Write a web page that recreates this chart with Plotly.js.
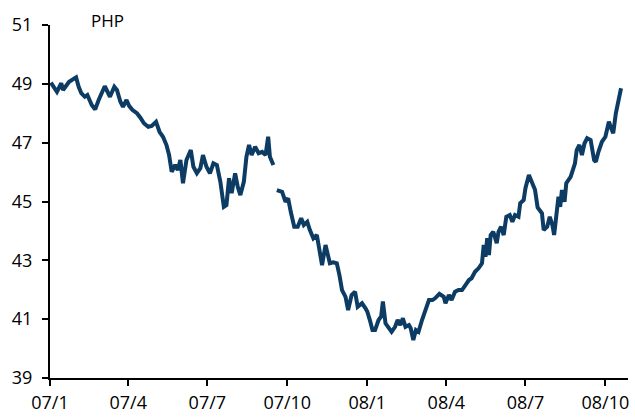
<!DOCTYPE html>
<html>
<head>
<meta charset="utf-8">
<script src="https://cdn.plot.ly/plotly-3.0.1.min.js"></script>
<style>
  html, body { margin: 0; padding: 0; background: #fff; }
  #chart { width: 635px; height: 419px; }
</style>
</head>
<body>
<div id="chart"></div>
<script>
// PHP per USD (null = gap in the series)
var dates = [
  "2007-01-02","2007-01-09","2007-01-14","2007-01-16","2007-01-23","2007-01-31","2007-02-03","2007-02-06",
  "2007-02-10","2007-02-13","2007-02-18","2007-02-22","2007-02-26","2007-03-05","2007-03-09","2007-03-11",
  "2007-03-16","2007-03-19","2007-03-23","2007-03-26","2007-03-30","2007-04-02","2007-04-06","2007-04-11",
  "2007-04-15","2007-04-19","2007-04-24","2007-04-28","2007-05-03","2007-05-07","2007-05-11","2007-05-15",
  "2007-05-18","2007-05-21","2007-05-25","2007-05-28","2007-05-31","2007-06-03","2007-06-07","2007-06-09",
  "2007-06-12","2007-06-15","2007-06-19","2007-06-23","2007-06-26","2007-06-30","2007-07-04","2007-07-08",
  "2007-07-12","2007-07-16","2007-07-20","2007-07-23","2007-07-26","2007-07-29","2007-08-02","2007-08-05",
  "2007-08-08","2007-08-12","2007-08-15","2007-08-18","2007-08-21","2007-08-25","2007-08-29","2007-09-02",
  "2007-09-06","2007-09-09","2007-09-11","2007-09-15","2007-09-17","2007-09-19","2007-09-25","2007-09-29",
  "2007-10-02","2007-10-05","2007-10-09","2007-10-13","2007-10-17","2007-10-20","2007-10-24","2007-10-27",
  "2007-10-31","2007-11-04","2007-11-07","2007-11-10","2007-11-14","2007-11-16","2007-11-19","2007-11-23",
  "2007-11-27","2007-11-30","2007-12-03","2007-12-07","2007-12-10","2007-12-14","2007-12-18","2007-12-21",
  "2007-12-26","2007-12-30","2008-01-01","2008-01-04","2008-01-07","2008-01-10","2008-01-14","2008-01-17",
  "2008-01-19","2008-01-22","2008-01-26","2008-01-29","2008-02-02","2008-02-05","2008-02-08","2008-02-11",
  "2008-02-14","2008-02-18","2008-02-20","2008-02-23","2008-02-26","2008-02-29","2008-03-04","2008-03-08",
  "2008-03-12","2008-03-16","2008-03-19","2008-03-24","2008-03-29","2008-03-31","2008-04-04","2008-04-07",
  "2008-04-11","2008-04-15","2008-04-19","2008-04-23","2008-04-27","2008-04-30","2008-05-04","2008-05-08",
  "2008-05-12","2008-05-14","2008-05-16","2008-05-18","2008-05-20","2008-05-22","2008-05-25","2008-05-29",
  "2008-05-31","2008-06-03","2008-06-06","2008-06-09","2008-06-13","2008-06-16","2008-06-19","2008-06-23",
  "2008-06-25","2008-06-29","2008-07-01","2008-07-05","2008-07-09","2008-07-12","2008-07-15","2008-07-20",
  "2008-07-22","2008-07-26","2008-07-29","2008-08-01","2008-08-03","2008-08-06","2008-08-08","2008-08-10",
  "2008-08-12","2008-08-15","2008-08-17","2008-08-22","2008-08-25","2008-08-27","2008-08-29","2008-09-01",
  "2008-09-04","2008-09-07","2008-09-10","2008-09-14","2008-09-18","2008-09-20","2008-09-23","2008-09-27",
  "2008-10-01","2008-10-05","2008-10-07","2008-10-10","2008-10-13","2008-10-15","2008-10-18","2008-10-19"
];
var php = [
  49.04,48.73,49.02,48.79,49.07,49.22,48.90,48.68,
  48.56,48.62,48.28,48.13,48.45,48.92,48.68,48.56,
  48.90,48.79,48.39,48.22,48.45,48.25,48.11,48.00,
  47.85,47.66,47.54,47.57,47.71,47.37,47.20,46.92,
  46.58,46.01,46.24,46.07,46.41,45.62,46.41,46.58,
  46.75,46.18,45.96,46.13,46.58,46.18,45.96,46.30,
  46.24,45.67,44.82,44.88,45.79,45.28,45.96,45.50,
  45.22,45.67,46.52,46.92,46.58,46.86,46.64,46.69,
  46.58,47.20,46.52,46.24,null,45.39,45.33,44.99,
  45.11,44.65,44.14,44.14,44.43,44.20,44.31,44.03,
  43.75,43.86,43.29,42.84,43.52,43.29,42.90,42.93,
  42.90,42.50,41.99,41.76,41.31,41.82,41.93,41.42,
  41.54,41.37,41.26,40.97,40.63,40.63,40.97,41.09,
  41.60,40.86,40.69,40.57,40.74,40.97,40.80,41.03,
  40.74,40.80,40.69,40.29,40.63,40.57,40.97,41.31,
  41.65,41.65,41.71,41.86,41.76,41.54,41.82,41.65,
  41.93,41.99,41.99,42.16,42.33,42.39,42.61,42.73,
  42.90,43.52,43.12,43.75,43.18,43.86,43.97,43.58,
  43.97,44.14,43.86,44.48,44.54,44.31,44.54,44.48,
  44.94,45.05,45.45,45.90,45.56,45.40,44.80,44.60,
  44.03,44.14,44.48,44.20,43.86,44.71,45.16,44.82,
  45.39,44.99,45.62,45.84,46.07,46.30,46.75,46.92,
  46.58,46.98,47.15,47.09,46.41,46.35,46.69,47.03,
  47.20,47.71,47.54,47.32,48.00,48.28,48.85,48.85
];
var tickDates = ["2007-01-01","2007-04-01","2007-07-01","2007-10-01","2008-01-01","2008-04-01","2008-07-01","2008-10-01"];
var tickText = ["07/1","07/4","07/7","07/10","08/1","08/4","08/7","08/10"];
var seriesName = "PHP";

var font = {family: "Open Sans, Lato, sans-serif", size: 18, color: "#000"};

Plotly.newPlot('chart', [{
    x: dates,
    y: php,
    type: 'scatter',
    mode: 'lines',
    connectgaps: false,
    line: {color: '#0c3c63', width: 4},
    hoverinfo: 'skip'
}], {
    width: 635,
    height: 419,
    margin: {l: 50, r: 7, t: 25, b: 41},
    paper_bgcolor: '#fff',
    plot_bgcolor: '#fff',
    showlegend: false,
    font: font,
    xaxis: {
        type: 'date',
        range: ['2007-01-01', '2008-10-27'],
        tickmode: 'array',
        tickvals: tickDates,
        ticktext: tickText,
        ticks: 'outside',
        ticklen: 6,
        tickwidth: 2,
        tickcolor: '#000',
        showline: true,
        linecolor: '#000',
        linewidth: 2,
        showgrid: false,
        zeroline: false,
        ticklabelstandoff: 1,
        tickfont: font
    },
    yaxis: {
        range: [39, 51],
        tickvals: [39, 41, 43, 45, 47, 49, 51],
        ticks: 'outside',
        ticklen: 6,
        tickwidth: 2,
        tickcolor: '#000',
        showline: true,
        linecolor: '#000',
        linewidth: 2,
        showgrid: false,
        zeroline: false,
        ticklabelstandoff: 6,
        tickfont: font
    },
    annotations: [{
        text: seriesName,
        xref: 'paper', yref: 'paper',
        x: 0.099, y: 1.012,
        xanchor: 'center', yanchor: 'middle',
        showarrow: false,
        font: {family: "Open Sans, Lato, sans-serif", size: 17, color: "#000"}
    }]
}, {staticPlot: true});
</script>
</body>
</html>
